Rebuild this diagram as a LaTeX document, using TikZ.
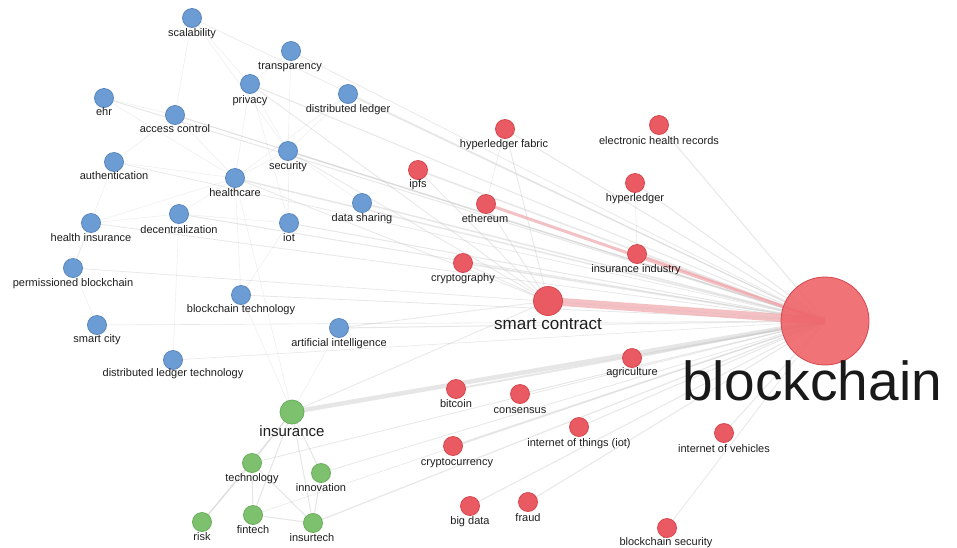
\documentclass[tikz,border=0pt]{standalone}
\usepackage{fontspec}
\setmainfont{Liberation Sans}
\usetikzlibrary{backgrounds}
\definecolor{bfill}{HTML}{6B9CD3}
\definecolor{bdraw}{HTML}{5A88BE}
\definecolor{rfill}{HTML}{EA5A62}
\definecolor{rdraw}{HTML}{D5474F}
\definecolor{gfill}{HTML}{7DC06E}
\definecolor{gdraw}{HTML}{6AAE5C}
\definecolor{bigfill}{HTML}{EE6469}
\definecolor{txt}{HTML}{1E1E1E}
\definecolor{edgegray}{HTML}{C8C8C8}
\definecolor{edgepink}{HTML}{EFA7AC}
\begin{document}
\begin{tikzpicture}[x=1pt,y=-1pt,
  nd/.style={circle,inner sep=0pt,minimum size=19pt,line width=0.8pt},
  bn/.style={nd,fill=bfill,draw=bdraw},
  rn/.style={nd,fill=rfill,draw=rdraw},
  gn/.style={nd,fill=gfill,draw=gdraw},
  lb/.style={anchor=base,inner sep=0pt,text=txt,font=\fontsize{11}{12}\selectfont},
  eg/.style={draw=edgegray,line width=#1,opacity=0.42},
  eg/.default=0.8,
  ep/.style={draw=edgepink,line width=#1,opacity=0.7},
  ep/.default=1.5,
]
\useasboundingbox (0,0) rectangle (957,547);
% ---- blue nodes
\node[bn] (scal) at (192,18) {};   \node[lb] (scal-t) at (192,36) {scalability};
\node[bn] (trans) at (291,51) {};  \node[lb] (trans-t) at (290,69) {transparency};
\node[bn] (priv) at (250,84) {};   \node[lb] (priv-t) at (250,103) {privacy};
\node[bn] (dl) at (348,94) {};     \node[lb] (dl-t) at (348,112) {distributed ledger};
\node[bn] (ehr) at (104,98) {};    \node[lb] (ehr-t) at (104,115) {ehr};
\node[bn] (ac) at (175,115) {};    \node[lb] (ac-t) at (175,132) {access control};
\node[bn] (auth) at (114,162) {};  \node[lb] (auth-t) at (114,179) {authentication};
\node[bn] (sec) at (288,151) {};   \node[lb] (sec-t) at (288,169) {security};
\node[bn] (hc) at (235,178) {};    \node[lb] (hc-t) at (235,196) {healthcare};
\node[bn] (dec) at (179,214) {};   \node[lb] (dec-t) at (179,233) {decentralization};
\node[bn] (hi) at (91,223) {};     \node[lb] (hi-t) at (91,241) {health insurance};
\node[bn] (iotb) at (289,223) {};  \node[lb] (iotb-t) at (289,241) {iot};
\node[bn] (ds) at (362,203) {};    \node[lb] (ds-t) at (362,221) {data sharing};
\node[bn] (pb) at (73,268) {};     \node[lb] (pb-t) at (73,286) {permissioned blockchain};
\node[bn] (bt) at (241,295) {};    \node[lb] (bt-t) at (241,312) {blockchain technology};
\node[bn] (scity) at (97,325) {};  \node[lb] (scity-t) at (97,342) {smart city};
\node[bn] (ai) at (339,328) {};    \node[lb] (ai-t) at (339,346) {artificial intelligence};
\node[bn] (dlt) at (173,360) {};   \node[lb] (dlt-t) at (173,376) {distributed ledger technology};
% ---- green nodes
\node[gn,minimum size=24pt] (ins) at (292,412) {};
\node[anchor=base,inner sep=0pt,text=txt,font=\fontsize{15}{17}\selectfont] (ins-t) at (292,436) {insurance};
\node[gn] (tech) at (252,463) {};  \node[lb] (tech-t) at (252,481) {technology};
\node[gn] (innov) at (321,473) {}; \node[lb] (innov-t) at (321,491) {innovation};
\node[gn] (risk) at (202,522) {};  \node[lb] (risk-t) at (202,540) {risk};
\node[gn] (fin) at (253,515) {};   \node[lb] (fin-t) at (253,533) {fintech};
\node[gn] (itech) at (313,523) {}; \node[lb] (itech-t) at (312,541) {insurtech};
% ---- red nodes
\node[rn] (hf) at (505,129) {};    \node[lb] (hf-t) at (504,147) {hyperledger fabric};
\node[rn] (ehrec) at (659,125) {}; \node[lb] (ehrec-t) at (659,144) {electronic health records};
\node[rn] (ipfs) at (418,170) {};  \node[lb] (ipfs-t) at (418,187) {ipfs};
\node[rn] (hl) at (635,183) {};    \node[lb] (hl-t) at (635,201) {hyperledger};
\node[rn] (eth) at (486,204) {};   \node[lb] (eth-t) at (485,222) {ethereum};
\node[rn] (ii) at (637,254) {};    \node[lb] (ii-t) at (636,272) {insurance industry};
\node[rn] (cry) at (463,263) {};   \node[lb] (cry-t) at (463,281) {cryptography};
\node[rn,minimum size=29pt] (sc) at (548,301) {};
\node[anchor=base,inner sep=0pt,text=txt,font=\fontsize{17}{19}\selectfont] (sc-t) at (548,329) {smart contract};
\node[rn] (agri) at (632,358) {};  \node[lb] (agri-t) at (632,375) {agriculture};
\node[rn] (btc) at (456,389) {};   \node[lb] (btc-t) at (456,407) {bitcoin};
\node[rn] (cons) at (520,394) {};  \node[lb] (cons-t) at (520,413) {consensus};
\node[rn] (cc) at (453,446) {};    \node[lb] (cc-t) at (457,465) {cryptocurrency};
\node[rn] (iotr) at (579,427) {};  \node[lb] (iotr-t) at (579,446) {internet of things (iot)};
\node[rn] (iov) at (724,433) {};   \node[lb] (iov-t) at (724,452) {internet of vehicles};
\node[rn] (bd) at (470,506) {};    \node[lb] (bd-t) at (470,524) {big data};
\node[rn] (fr) at (528,502) {};    \node[lb] (fr-t) at (528,521) {fraud};
\node[rn] (bs) at (667,528) {};    \node[lb] (bs-t) at (666,545) {blockchain security};
\node[circle,inner sep=0pt,minimum size=88pt,fill=bigfill,fill opacity=0.9,draw=rdraw,line width=0.8pt] (bc) at (825,321) {};
\node[anchor=base,inner sep=0pt,text=black!90,font=\fontsize{55}{60}\selectfont] (bc-t) at (812,400) {blockchain};
% ---- edges
\begin{scope}[on background layer]
\fill[white] (0,0) rectangle (957,547);
% blue cluster
\foreach \a/\b in {scal/ac,scal/priv,scal/sec,priv/sec,priv/hc,priv/iotb,dl/sec,dl/hc,ac/hc,ac/ehr,ac/sec,auth/hc,auth/ac,hc/sec,hc/dec,sec/iotb,sec/ds,dec/hi,hi/pb,pb/auth,bt/hc,bt/iotb,bt/ins,dlt/dec,scity/pb,ai/ins,hc/ins,trans/priv,trans/sec,ehr/hc,dec/iotb,hi/hc}
  \draw[eg=0.6,opacity=0.28] (\a.center) -- (\b.center);
% green cluster
\foreach \a/\b in {ins/tech,ins/innov,ins/itech,ins/fin,ins/risk,tech/risk,tech/itech,tech/fin,fin/itech,innov/itech}
  \draw[eg=1,opacity=0.45] (\a.center) -- (\b.center);
% smart contract
\foreach \a in {eth,hf,ins,sec,priv,cry,ipfs,hc,ai}
  \draw[eg=0.9,opacity=0.4] (\a.center) -- (sc.center);
\draw[eg=0.6,opacity=0.35] (hl.center) -- (ii.center);
\draw[eg=0.6,opacity=0.35] (hf.center) -- (eth.center);
% to blockchain
\foreach \a/\w in {hf/1,ehrec/1,ipfs/1.5,hl/1,cry/1.5,agri/1.5,btc/2,cons/1,cc/1.5,iotr/1,iov/1,bd/1,fr/1,bs/0.8,
  sec/1.5,priv/1,dl/1.2,ds/1.5,ehr/1,hc/1.5,ac/1,dec/1,iotb/1,ai/1,hi/0.8,bt/0.8,pb/0.7,trans/0.7,scal/0.6,auth/0.7,scity/0.6,dlt/0.6,
  itech/1.2,tech/0.8,fin/0.6,innov/0.8}
  \draw[eg=\w] (\a.center) -- (bc.center);
\draw[eg=4.5,opacity=0.45] (ins.center) -- (bc.center);
\draw[ep=3] (eth.center) -- (bc.center);
\draw[ep=2] (ii.center) -- (bc.center);
\draw[ep=8] (sc.center) -- (bc.center);
\end{scope}
\end{tikzpicture}
\end{document}
